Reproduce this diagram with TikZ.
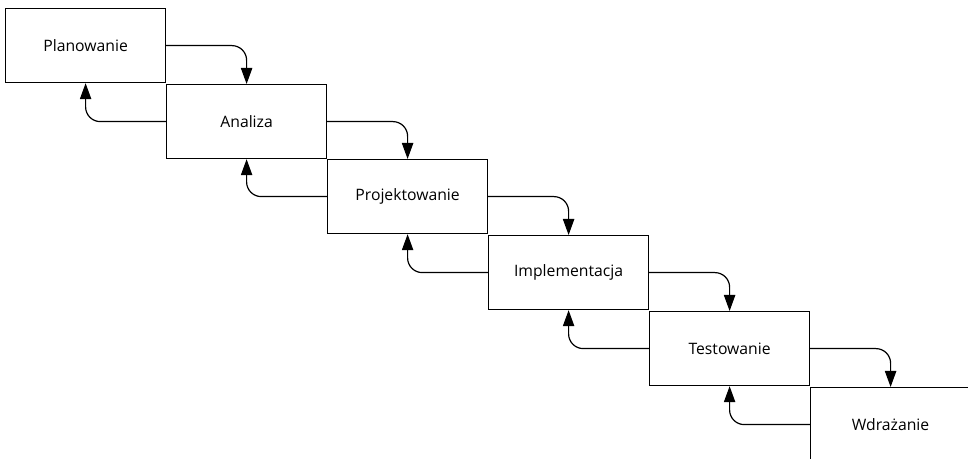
\documentclass[tikz,border=0pt]{standalone}
\usepackage{fontspec}
\setmainfont{Open Sans}
\usetikzlibrary{arrows.meta}
\begin{document}
\begin{tikzpicture}[x=0.75pt,y=-0.75pt,
  phase/.style={draw, line width=0.9pt, minimum width=120pt, minimum height=55.5pt,
    inner sep=0pt, font=\fontsize{11.8pt}{14pt}\selectfont, anchor=north west},
  flow/.style={line width=0.9pt, rounded corners=11pt,
    -{Triangle[length=12pt,width=8.5pt]}}]
  \useasboundingbox (0,0) rectangle (968,459);
  \clip (0,0) rectangle (968,459);
  % steps of the cascade
  \node[phase] (p1) at (5,8) {Planowanie};
  \node[phase] (p2) at (166,84) {Analiza};
  \node[phase] (p3) at (327,159) {Projektowanie};
  \node[phase] (p4) at (488,235) {Implementacja};
  \node[phase] (p5) at (649,311) {Testowanie};
  \node[phase] (p6) at (810,387) {Wdrażanie};
  % forward and feedback arrows between neighbouring steps
  \foreach \a/\b in {p1/p2,p2/p3,p3/p4,p4/p5,p5/p6}{
    \draw[flow] (\a.east) -| (\b.north);
    \draw[flow] (\b.west) -| (\a.south);
  }
\end{tikzpicture}
\end{document}
